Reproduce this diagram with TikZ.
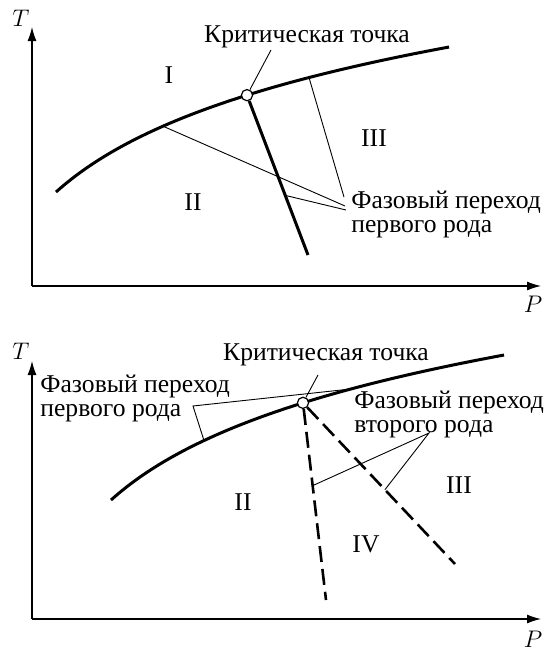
\documentclass[tikz,border=0pt]{standalone}
\usepackage{fontspec}
\setmainfont{Liberation Serif}
\usetikzlibrary{positioning,calc,arrows.meta}

\tikzset{
  declare function={tc(\p)=616.6-91.8*ln(\p+46);},
  axis/.style={line width=0.6pt,-{Latex[length=7pt,width=4.5pt]}},
  phase/.style={line width=1.5pt},
  second/.style={line width=1.3pt,dash pattern=on 8pt off 3.5pt},
  lead/.style={line width=0.45pt},
  crit/.style={circle,draw,line width=0.6pt,fill=white,inner sep=0pt,minimum size=5.6pt},
  note/.style={align=left,anchor=west,inner sep=0pt}
}

\begin{document}
\begin{tikzpicture}[x=0.5pt,y=-0.5pt,font=\fontsize{12.8}{12}\selectfont]
\useasboundingbox (0,0) rectangle (553,649);

% first diagram
\coordinate (o1) at (32,286);
\coordinate (ty1) at (32,27);
\coordinate (px1) at (541,286);
\draw[axis] (o1) -- (ty1);
\draw[axis] (o1) -- (px1);
\node (T1) at (21,18) {$T$};
\node (P1) at (533,304) {$P$};

\coordinate (a1) at (163,{tc(163)});
\coordinate (k1) at (247,{tc(247)});
\coordinate (b1) at (309,{tc(309)});
\coordinate (m1) at (308,255);
\coordinate (q1) at ($(k1)!0.627!(m1)$);
\draw[phase] plot[domain=56:449,samples=80] (\x,{tc(\x)});
\node[crit] (cp1) at (k1) {};
\draw[phase] (cp1) -- (m1);

\node (kt1) at (307,37) {Критическая точка};
\coordinate (kl1) at (271,50);
\draw[lead] (cp1) -- (kl1);

\node[note] (ft1) at (351,214) {Фазовый переход\\первого рода};
\coordinate (f1a) at (344,197);
\coordinate (f1b) at (345,206);
\coordinate (f1c) at (346,210);
\draw[lead] (b1) -- (f1a);
\draw[lead] (a1) -- (f1b);
\draw[lead] (q1) -- (f1c);

\node (r1a) at (169,75) {I};
\node (r1b) at (193,202) {II};
\node (r1c) at (374,138) {III};

% second diagram
\coordinate (o2) at (32,619);
\coordinate (ty2) at (32,361);
\coordinate (px2) at (541,619);
\draw[axis] (o2) -- (ty2);
\draw[axis] (o2) -- (px2);
\node (T2) at (21,351) {$T$};
\node (P2) at (533,639) {$P$};

\coordinate (a2) at (204,{tc(149)+308});
\coordinate (k2) at (303,{tc(248)+308});
\coordinate (b2) at (351,{tc(296)+308});
\coordinate (m2a) at (326,600);
\coordinate (m2b) at (455,564);
\coordinate (h1) at ($(k2)!0.42!(m2a)$);
\coordinate (h2) at ($(k2)!0.539!(m2b)$);
\draw[phase] plot[domain=56:449,samples=80] (\x+55,{tc(\x)+308});
\node[crit] (cp2) at (k2) {};
\draw[second] (cp2) -- (m2a);
\draw[second] (cp2) -- (m2b);

\node (kt2) at (326,355) {Критическая точка};
\coordinate (kl2) at (318,375);
\draw[lead] (cp2) -- (kl2);

\node[note] (ft2a) at (40,398) {Фазовый переход\\первого рода};
\coordinate (g2) at (193,406);
\draw[lead] (a2) -- (g2) -- (b2);

\node[note] (ft2b) at (354,414) {Фазовый переход\\второго рода};
\coordinate (c2) at (429,433);
\draw[lead] (h1) -- (c2) -- (h2);

\node (r2b) at (243,502) {II};
\node (r2c) at (459,485) {III};
\node (r2d) at (366,544) {IV};

\end{tikzpicture}
\end{document}
